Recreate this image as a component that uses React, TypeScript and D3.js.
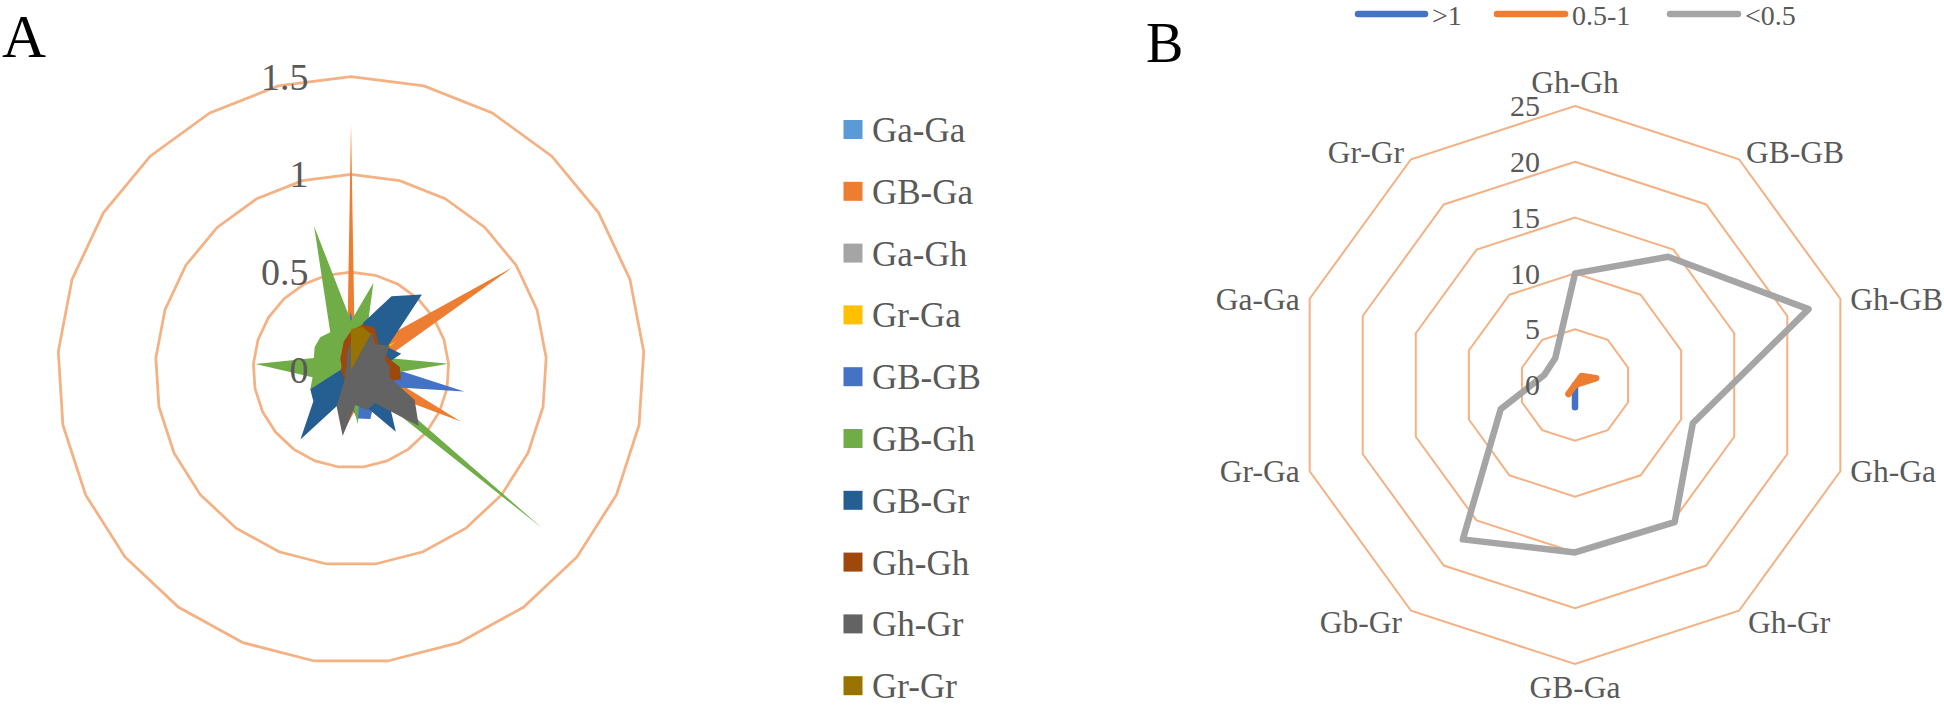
import React from 'react';
import * as d3 from 'd3';

const W = 1944;
const H = 709;
const FONT = "'Liberation Serif', 'Times New Roman', serif";
const TEXT_GRAY = '#595959';
const GRID = '#F4B183';

// ---------------- Panel A data ----------------
const categoriesA = d3.range(1, 26).map(String); // 25 unlabeled spokes
const seriesA = ['Ga-Ga', 'GB-Ga', 'Ga-Gh', 'Gr-Ga', 'GB-GB', 'GB-Gh', 'GB-Gr', 'Gh-Gh', 'Gh-Gr', 'Gr-Gr'];
const colorsA = ['#5B9BD5', '#ED7D31', '#A5A5A5', '#FFC000', '#4472C4', '#70AD47', '#255E91', '#9E480E', '#636363', '#997300'];
const valGaGa = [0.08, 0.06, 0.1, 0.1, 0.1, 0.08, 0.1, 0.1, 0.1, 0.08, 0.1, 0.08, 0.1, 0.06, 0.08, 0.08, 0.06, 0.05, 0.04, 0.05, 0.05, 0.05, 0.04, 0.05, 0.05];
const valGBGa = [1.26, 0.08, 0.12, 0.2, 0.98, 0.18, 0.12, 0.2, 0.62, 0.15, 0.1, 0.12, 0.2, 0.32, 0.15, 0.1, 0.08, 0.06, 0.05, 0.05, 0.05, 0.06, 0.05, 0.06, 0.08];
const valGaGh = [0.08, 0.07, 0.08, 0.08, 0.1, 0.08, 0.08, 0.1, 0.1, 0.1, 0.08, 0.08, 0.08, 0.08, 0.07, 0.06, 0.05, 0.05, 0.05, 0.05, 0.05, 0.05, 0.05, 0.05, 0.06];
const valGrGa = [0.05, 0.05, 0.06, 0.1, 0.27, 0.1, 0.06, 0.05, 0.05, 0.05, 0.05, 0.05, 0.05, 0.04, 0.04, 0.04, 0.04, 0.04, 0.04, 0.04, 0.04, 0.04, 0.04, 0.04, 0.05];
const valGBGB = [0.3, 0.1, 0.12, 0.1, 0.1, 0.15, 0.2, 0.59, 0.2, 0.15, 0.2, 0.27, 0.25, 0.15, 0.1, 0.1, 0.08, 0.06, 0.05, 0.05, 0.05, 0.06, 0.06, 0.08, 0.15];
const valGBGh = [0.25, 0.46, 0.15, 0.1, 0.12, 0.2, 0.5, 0.15, 0.12, 1.27, 0.1, 0.12, 0.28, 0.1, 0.12, 0.15, 0.18, 0.23, 0.2, 0.49, 0.2, 0.22, 0.23, 0.22, 0.76];
const valGBGr = [0.1, 0.25, 0.43, 0.53, 0.22, 0.27, 0.15, 0.15, 0.2, 0.25, 0.39, 0.2, 0.15, 0.15, 0.2, 0.44, 0.25, 0.23, 0.08, 0.05, 0.05, 0.05, 0.05, 0.05, 0.06];
const valGhGh = [0.2, 0.24, 0.25, 0.2, 0.2, 0.2, 0.25, 0.26, 0.15, 0.1, 0.1, 0.1, 0.08, 0.08, 0.08, 0.06, 0.05, 0.05, 0.05, 0.05, 0.05, 0.06, 0.08, 0.1, 0.15];
const valGhGr = [0.15, 0.12, 0.22, 0.18, 0.235, 0.18, 0.2, 0.2, 0.36, 0.45, 0.21, 0.22, 0.18, 0.34, 0.2, 0.05, 0.04, 0.03, 0.03, 0.03, 0.03, 0.03, 0.03, 0.05, 0.08];
const valGrGr = [0.21, 0.23, 0.21, 0, 0, 0, 0, 0, 0, 0, 0, 0, 0, 0, 0, 0, 0, 0, 0, 0, 0, 0, 0, 0, 0];
const valuesA = [valGaGa, valGBGa, valGaGh, valGrGa, valGBGB, valGBGh, valGBGr, valGhGh, valGhGr, valGrGr];
const ticksA = [0, 0.5, 1, 1.5];
const tickLabelsA = ['0', '0.5', '1', '1.5'];

// ---------------- Panel B data ----------------
const categoriesB = ['Gh-Gh', 'GB-GB', 'Gh-GB', 'Gh-Ga', 'Gh-Gr', 'GB-Ga', 'Gb-Gr', 'Gr-Ga', 'Ga-Ga', 'Gr-Gr'];
const seriesB = ['>1', '0.5-1', '<0.5'];
const colorsB = ['#4472C4', '#ED7D31', '#A5A5A5'];
const valGt1 = [0, 0, 0, 0, 0, 2, 0, 0, 0, 0];
const val05to1 = [0, 1, 2, 0, 0, 0, 1, 0, 0, 0];
const valLt05 = [10, 14.2, 22, 11.1, 15.2, 15, 17.1, 7, 2.9, 3];
const valuesB = [valGt1, val05to1, valLt05];
const ticksB = [0, 5, 10, 15, 20, 25];

// ---------------- geometry ----------------
const cxA = 351, cyA = 370, RA = 293.3;
const cxB = 1575, cyB = 385, RB = 279;

export default function App() {
  // Panel A scales
  const angA = d3.scalePoint<string>().domain(categoriesA).range([0, 2 * Math.PI * (24 / 25)]);
  const rA = d3.scaleLinear().domain([0, 1.5]).range([0, RA]);
  const radialA = d3.lineRadial<number>()
    .angle((_, i) => angA(categoriesA[i]) as number)
    .radius((d) => rA(d))
    .curve(d3.curveLinearClosed);

  // Panel B scales
  const angB = d3.scalePoint<string>().domain(categoriesB).range([0, 2 * Math.PI * (9 / 10)]);
  const rB = d3.scaleLinear().domain([0, 25]).range([0, RB]);
  const radialB = d3.lineRadial<number>()
    .angle((_, i) => angB(categoriesB[i]) as number)
    .radius((d) => rB(d))
    .curve(d3.curveLinearClosed);

  const legendA = seriesA.map((s, i) => ({ s, c: colorsA[i], y: 129.5 + i * 61.8 }));

  const labelB = (name: string) => {
    const a = angB(name) as number;
    const deg = Math.round((a * 180) / Math.PI);
    const vx = cxB + RB * Math.sin(a);
    const vy = cyB - RB * Math.cos(a);
    let x = vx, y = vy, anchor: 'start' | 'middle' | 'end' = 'middle';
    if (deg === 0) { y = vy - 13; }
    else if (deg === 180) { y = vy + 34; }
    else {
      const right = deg < 180;
      anchor = right ? 'start' : 'end';
      const sgn = right ? 1 : -1;
      if (deg === 36 || deg === 324) { x = vx + 7 * sgn; y = vy + 4; }
      else if (deg === 144 || deg === 216) { x = vx + 9 * sgn; y = vy + 22; }
      else { x = vx + 10 * sgn; y = vy + 11; }
    }
    return (
      <text key={name} x={x} y={y} textAnchor={anchor} fontSize={31.5} fill={TEXT_GRAY} fontFamily={FONT}>{name}</text>
    );
  };

  const legendB = [
    { x1: 1358, x2: 1425, tx: 1432 },
    { x1: 1497, x2: 1565, tx: 1572 },
    { x1: 1670, x2: 1738, tx: 1745 },
  ];

  return (
    <svg width={W} height={H} style={{ position: 'absolute', left: 0, top: 0, background: '#fff' }} xmlns="http://www.w3.org/2000/svg">
      <rect x={0} y={0} width={W} height={H} fill="#fff" />

      {/* ---------- Panel A ---------- */}
      <text x={2} y={57} fontSize={61} fontFamily={FONT} fill="#000">A</text>
      <g transform={`translate(${cxA},${cyA})`}>
        {ticksA.filter((t) => t > 0).map((t) => (
          <path key={t} d={radialA(categoriesA.map(() => t)) as string} fill="none" stroke={GRID} strokeWidth={2.75} />
        ))}
        {valuesA.map((vals, i) => (
          <path key={seriesA[i]} d={radialA(vals) as string} fill={colorsA[i]} stroke="none" />
        ))}
        {ticksA.map((t, i) => (
          <text key={t} x={-42.5} y={-rA(t)} dy="0.34em" textAnchor="end" fontSize={38} fill={TEXT_GRAY} fontFamily={FONT}>{tickLabelsA[i]}</text>
        ))}
      </g>

      {/* Legend A */}
      {legendA.map((l) => (
        <g key={l.s}>
          <rect x={843.5} y={l.y - 9.5} width={19} height={19} fill={l.c} />
          <text x={872} y={l.y + 12.5} fontSize={35} fill={TEXT_GRAY} fontFamily={FONT}>{l.s}</text>
        </g>
      ))}

      {/* ---------- Panel B ---------- */}
      <text x={1146} y={62} fontSize={56} fontFamily={FONT} fill="#000">B</text>
      {seriesB.map((s, i) => (
        <g key={s}>
          <line x1={legendB[i].x1} x2={legendB[i].x2} y1={14} y2={14} stroke={colorsB[i]} strokeWidth={6.5} strokeLinecap="round" />
          <text x={legendB[i].tx} y={24.5} fontSize={28} fill={TEXT_GRAY} fontFamily={FONT}>{s}</text>
        </g>
      ))}
      <g transform={`translate(${cxB},${cyB})`}>
        {ticksB.filter((t) => t > 0).map((t) => (
          <path key={t} d={radialB(categoriesB.map(() => t)) as string} fill="none" stroke={GRID} strokeWidth={2} />
        ))}
        {valuesB.map((vals, i) => (
          <path key={seriesB[i]} d={radialB(vals) as string} fill="none" stroke={colorsB[i]} strokeWidth={6.5} strokeLinejoin="round" strokeLinecap="round" />
        ))}
        {ticksB.map((t) => (
          <text key={t} x={-35} y={-rB(t)} dy="0.34em" textAnchor="end" fontSize={30} fill={TEXT_GRAY} fontFamily={FONT}>{t}</text>
        ))}
      </g>
      {categoriesB.map((c) => labelB(c))}
    </svg>
  );
}
